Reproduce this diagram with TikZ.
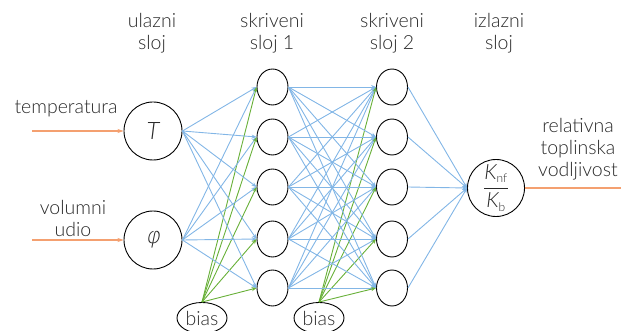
\documentclass[tikz,border=0pt]{standalone}
\usepackage{fontspec}
\setmainfont{Lato Light}[ItalicFont={Lato Light Italic}]
\newfontfamily\dvfont{DejaVu Sans ExtraLight}[FakeSlant=0.2]
\usetikzlibrary{arrows.meta,shapes.geometric}
\definecolor{wblue}{RGB}{130,182,230}
\definecolor{wgreen}{RGB}{104,176,56}
\definecolor{worange}{RGB}{244,160,112}
\definecolor{txt}{RGB}{40,40,40}
\newcommand{\kk}[1]{\hbox{\itshape K}_{\hbox{\fontsize{12}{12}\selectfont #1}}}
\begin{document}
\begin{tikzpicture}[x=1pt,y=-1pt,
  every node/.style={text=txt,font=\fontsize{19.5}{22}\selectfont},
  neuron/.style={draw=black,line width=0.9pt,ellipse,minimum width=31pt,minimum height=36pt,inner sep=0pt},
  inneuron/.style={draw=black,line width=0.9pt,circle,minimum size=58pt,inner sep=0pt},
  biasnode/.style={draw=black,line width=0.9pt,ellipse,minimum width=50pt,minimum height=31pt,inner sep=0pt},
  wconn/.style={draw=wblue,line width=0.9pt,-{Stealth[length=5pt,width=4pt]}},
  bconn/.style={draw=wgreen,line width=0.9pt,-{Stealth[length=5pt,width=4pt]}},
  oconn/.style={draw=worange,line width=1.3pt},
  lbl/.style={align=center,font=\fontsize{19.5}{22}\selectfont}]
\useasboundingbox (0,0) rectangle (621,331);
% labels
\node[lbl] (l0) at (152,33) {ulazni\\sloj};
\node[lbl] (l1) at (272,33) {skriveni\\sloj 1};
\node[lbl] (l2) at (392,33) {skriveni\\sloj 2};
\node[lbl] (l3) at (499,33) {izlazni\\sloj};
% input nodes
\node[inneuron,font=\fontsize{24}{24}\selectfont] (T) at (153,131) {\itshape T};
\node[inneuron,font=\fontsize{22}{22}\selectfont] (P) at (153,240) {\dvfont φ};
% hidden layers
\foreach \i/\y in {1/87,2/137,3/187,4/239,5/288} {
  \node[neuron] (a\i) at (272.5,\y) {};
  \node[neuron] (b\i) at (392,\y) {};
}
% output
\node[draw=black,line width=0.9pt,circle,minimum size=57pt,inner sep=0pt,font=\fontsize{21}{21}\selectfont] (O) at (496,188)
  {$\displaystyle\frac{\kk{nf}}{\kk{b}}$};
% bias
\node[biasnode] (B1) at (202,318) {bias};
\node[biasnode] (B2) at (319,318) {bias};
% connections
\foreach \i in {1,...,5} {
  \draw[wconn] (T.east) -- (a\i.west);
  \draw[wconn] (P.east) -- (a\i.west);
  \foreach \j in {1,...,5} { \draw[wconn] (a\j.east) -- (b\i.west); }
  \draw[wconn] (b\i.east) -- (O.west);
  \draw[bconn] (B1.north) -- (a\i.west);
  \draw[bconn] (B2.north) -- (b\i.west);
}
% inputs/outputs
\node[lbl] (tin) at (66,109) {temperatura};
\node[lbl] (vin) at (73,218) {volumni\\udio};
\coordinate (ts) at (32,131);
\coordinate (vs) at (32,240);
\coordinate (oe) at (621,188);
\draw[oconn,-{Stealth[length=6pt,width=4pt]}] (ts) -- (T.west);
\draw[oconn,-{Stealth[length=6pt,width=4pt]}] (vs) -- (P.west);
\draw[oconn] (O.east) -- (oe);
\node[lbl] (rel) at (578,149) {relativna\\toplinska\\vodljivost};
\end{tikzpicture}
\end{document}
